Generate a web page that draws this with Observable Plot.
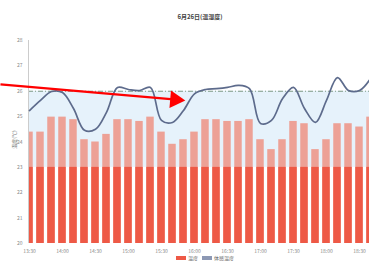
<!DOCTYPE html>
<html><head><meta charset="utf-8">
<script src="https://cdn.jsdelivr.net/npm/d3@7"></script>
<script src="https://cdn.jsdelivr.net/npm/@observablehq/plot@0.6"></script>
<style>
html,body{margin:0;padding:0;background:#fff;overflow:hidden;}
#wrap{position:relative;width:369px;height:261px;overflow:hidden;font-family:"Noto Sans CJK SC","Noto Sans",sans-serif;}
#title{position:absolute;top:12px;left:160px;width:80px;text-align:center;font-size:6px;font-weight:bold;color:#444;}
#legend{position:absolute;top:254px;left:176px;font-size:5px;color:#666;display:flex;align-items:center;gap:2px;white-space:nowrap;}
.sw{display:inline-block;width:10px;height:4px;}
#chart{position:absolute;top:0;left:0;}
</style></head>
<body><div id="wrap"><div id="chart"></div><div id="title">6月26日(温湿度)</div>
<div id="legend"><span class="sw" style="background:#ee5946"></span><span>温度</span><span class="sw" style="background:#8c98b4;margin-left:2px"></span><span>体感温度</span></div></div>
<script>
const tickLabels = ["13:30","14:00","14:30","15:00","15:30","16:00","16:30","17:00","17:30","18:00","18:30"];
const lineValues = [25.24,25.64,25.99,25.95,25.32,24.46,24.5,25.17,26.15,26.07,26.03,26.15,24.85,24.77,25.24,25.9,26.07,26.1,26.15,26.23,26.1,24.73,24.85,25.7,26.15,25.32,24.77,25.64,26.54,26.03,26.03,26.5];
const barValues = [24.39,24.39,24.98,24.98,24.88,24.09,24.0,24.3,24.88,24.88,24.81,24.98,24.39,23.91,24.09,24.39,24.88,24.88,24.81,24.81,24.88,24.09,23.7,24.09,24.81,24.72,23.7,24.09,24.72,24.72,24.59,24.98];
const baseValue = 23;
const bandLow = 23, bandHigh = 26;
const yTicks = [20,21,22,23,24,25,26,27,28];
const arrowFrom = {i: -2.64, v: 26.27};
const arrowTo = {i: 14.0, v: 25.64};

const data = barValues.map((v, i) => ({i, v, t: lineValues[i], base: baseValue}));
const tickPos = tickLabels.map((_, k) => k * 3);

const chart = Plot.plot({
  width: 369, height: 261,
  marginLeft: 28, marginRight: 0, marginTop: 40, marginBottom: 18,
  style: {fontFamily: '"Noto Sans CJK SC","Noto Sans",sans-serif', fontSize: "5px", color: "#888", background: "#fff"},
  x: {type: "linear", domain: [-0.09, 30.91], axis: null},
  y: {domain: [20, 28], axis: null},
  marks: [
    Plot.rectY([{lo: bandLow, hi: bandHigh}], {y1: "lo", y2: "hi", fill: "#e6f2fb"}),
    Plot.ruleY([bandHigh], {stroke: "#7f9a86", strokeWidth: 1, strokeDasharray: "5,2,1,2"}),
    Plot.rectY(data, {x1: d => d.i - 0.34, x2: d => d.i + 0.34, y1: 20, y2: "v", fill: "#eda196", clip: true}),
    Plot.rectY(data, {x1: d => d.i - 0.34, x2: d => d.i + 0.34, y1: 20, y2: "base", fill: "#ee5946", clip: true}),
    Plot.ruleX([-0.09], {stroke: "#ccc", strokeWidth: 1}),
    Plot.line(data, {x: "i", y: "t", curve: "catmull-rom", stroke: "#5d6b8c", strokeWidth: 1.7, clip: true}),
    Plot.axisY(yTicks, {tickSize: 0, tickPadding: 6, fontSize: 5, fill: "#888", label: null, tickFormat: d => d}),
    Plot.axisX(tickPos, {tickSize: 0, tickPadding: 6, fontSize: 5, fill: "#888", label: null, tickFormat: (d, k) => tickLabels[k]}),
    Plot.text(["温度(℃)"], {x: -1.36, y: 24.1, rotate: -90, fontSize: 5, fill: "#777"}),
    Plot.link([{a: arrowFrom, b: arrowTo}], {x1: d => d.a.i, y1: d => d.a.v, x2: d => d.b.i - 0.9, y2: d => d.b.v + 0.04, stroke: "#f00", strokeWidth: 2.4}),
    Plot.dot([arrowTo], {x: d => d.i - 0.75, y: d => d.v + 0.03, symbol: "triangle", r: 6.5, fill: "#f00", rotate: 95})
  ]
});
document.getElementById("chart").appendChild(chart);
</script></body></html>
